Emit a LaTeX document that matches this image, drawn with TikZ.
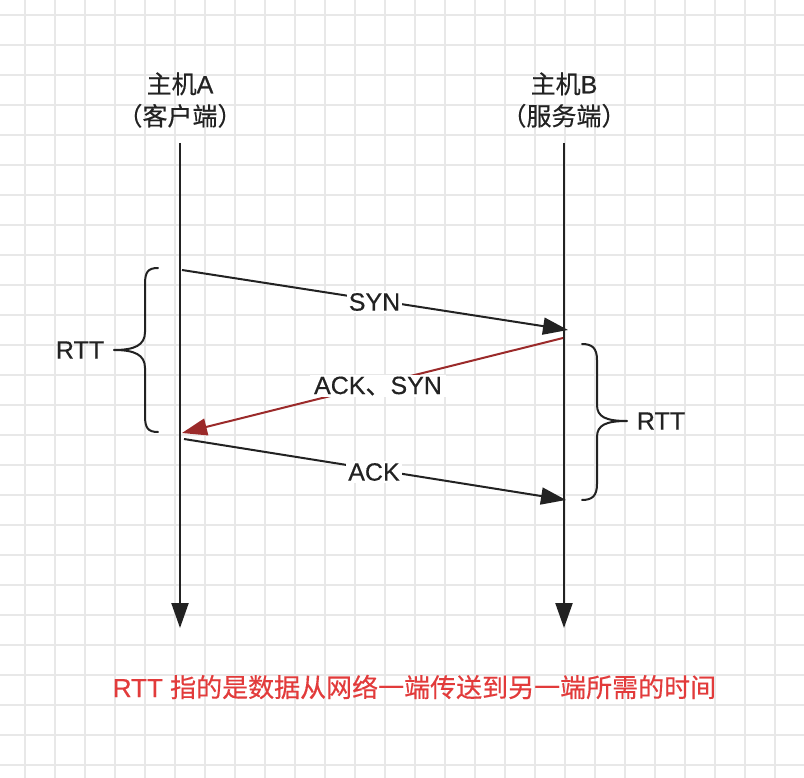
\documentclass[tikz,border=0pt]{standalone}
\usepackage{fontspec}
\setmainfont{Liberation Sans}[UprightFeatures={FakeBold=0.4}]
\newfontfamily\cjk{Noto Sans CJK SC}[UprightFeatures={FakeBold=0.4}]
\usetikzlibrary{arrows.meta}
\definecolor{gridc}{HTML}{E8E8E8}
\definecolor{ink}{HTML}{222222}
\definecolor{darkred}{HTML}{9B2A2A}
\definecolor{notered}{HTML}{E23B3B}
\tikzset{
  lbl/.style={font=\fontsize{25}{32}\selectfont, text=ink, inner sep=2pt},
  msglbl/.style={lbl, fill=white},
  life/.style={draw=ink, line width=2.2pt, -{Triangle[length=25pt,width=17pt]}},
  msg/.style={draw=ink, line width=2pt, -{Triangle[length=25pt,width=17pt]}},
  brc/.style={draw=ink, line width=2pt, line cap=round, line join=round}
}
\begin{document}
\begin{tikzpicture}[x=1pt,y=-1pt]
\useasboundingbox (0,0) rectangle (804,778);
\fill[white] (0,0) rectangle (804,778);
% grid
\foreach \gx in {25,55,...,805} \draw[gridc, line width=2pt] (\gx,0) -- (\gx,778);
\foreach \gy in {15,45,...,778} \draw[gridc, line width=2pt] (0,\gy) -- (804,\gy);
% hosts
\node[lbl, align=center] (hostA) at (180,100) {{\cjk 主机}A\\{\cjk （客户端）}};
\node[lbl, align=center] (hostB) at (564,100) {{\cjk 主机}B\\{\cjk （服务端）}};
% lifelines
\coordinate (a0) at (180,143);
\coordinate (a1) at (180,628);
\coordinate (b0) at (564,143);
\coordinate (b1) at (564,628);
\draw[life] (a0) -- (a1);
\draw[life] (b0) -- (b1);
% messages
\coordinate (s0) at (182,270);
\coordinate (s1) at (568,330);
\coordinate (r0) at (563,338);
\coordinate (r1) at (182,433);
\coordinate (k0) at (184,439);
\coordinate (k1) at (566,500);
\draw[msg] (s0) -- (s1);
\draw[msg, draw=darkred, color=darkred] (r0) -- (r1);
\draw[msg] (k0) -- (k1);
\node[msglbl] (syn) at (374.5,302) {SYN};
\node[msglbl, inner xsep=4pt] (acksyn) at (378,386) {ACK{\cjk 、}SYN};
\node[msglbl] (ack) at (374,472) {ACK};
% braces
\draw[brc] (158,268) .. controls (148,268) and (145,272) .. (145,284) -- (145,332)
  .. controls (145,345) and (135,350) .. (114,350)
  .. controls (135,350) and (145,355) .. (145,368) -- (145,416)
  .. controls (145,428) and (148,432) .. (158,432);
\draw[brc] (582,344) .. controls (592,344) and (597,348) .. (597,360) -- (597,405)
  .. controls (597,417) and (606,421) .. (627,421)
  .. controls (606,421) and (597,425) .. (597,437) -- (597,484)
  .. controls (597,496) and (592,500) .. (582,500);
\node[lbl] (rttL) at (80,350) {RTT};
\node[lbl] (rttR) at (661,421) {RTT};
% note
\node[lbl, text=notered, font=\fontsize{26}{30}\selectfont] (note) at (414.5,687) {RTT {\cjk 指的是数据从网络一端传送到另一端所需的时间}};
\end{tikzpicture}
\end{document}
